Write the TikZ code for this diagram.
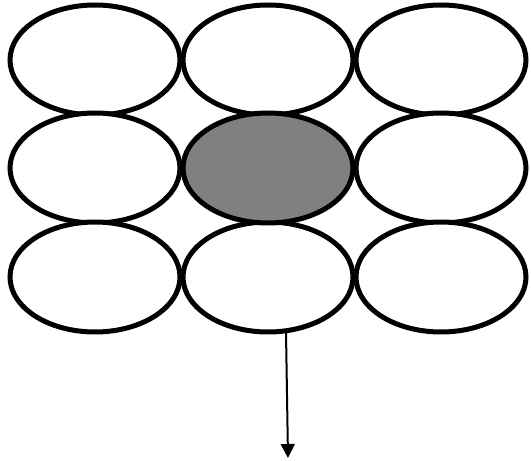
\documentclass[tikz,border=0pt]{standalone}
\usetikzlibrary{shapes.geometric,arrows.meta}
\definecolor{cellgray}{RGB}{128,128,128}
\begin{document}
\begin{tikzpicture}[x=1pt,y=1pt,
  cell/.style={ellipse,draw=black,line width=5pt,fill=white,minimum width=170pt,minimum height=110pt,inner sep=0pt,outer sep=0pt},
  shaded/.style={cell,fill=cellgray},
  flow/.style={line width=2pt,-{Triangle[width=14pt,length=14pt]}}]
\useasboundingbox (0,0) rectangle (531,461);
\node[cell] (a1) at (95,401) {};
\node[cell] (a2) at (268,401) {};
\node[cell] (a3) at (441,401) {};
\node[cell] (b1) at (95,293) {};
\node[cell] (b3) at (441,293) {};
\node[cell] (c1) at (95,184) {};
\node[cell] (c2) at (268,184) {};
\node[cell] (c3) at (441,184) {};
\node[shaded] (b2) at (268,293) {};
\coordinate (s) at (286,129);
\coordinate (e) at (288,3);
\draw[flow] (s) -- (e);
\end{tikzpicture}
\end{document}
